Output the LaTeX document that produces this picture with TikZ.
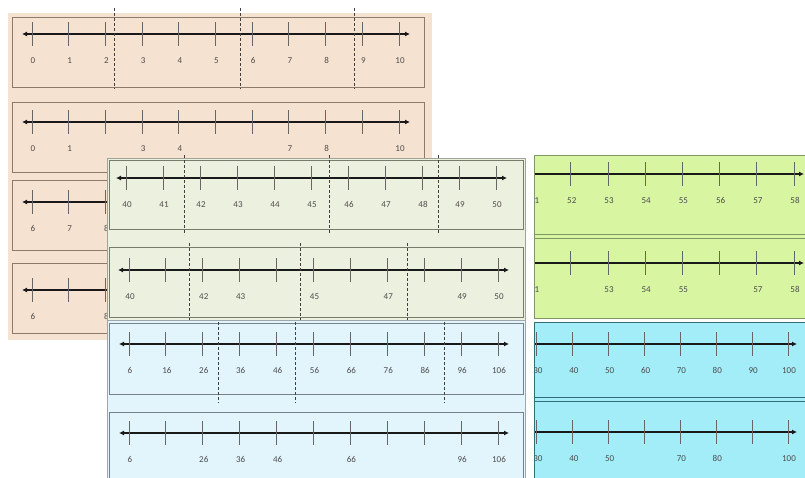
\documentclass[tikz,border=0pt]{standalone}
\usepackage{fontspec}
\setmainfont{Carlito}[Numbers=Lining]
\usetikzlibrary{arrows.meta}
\definecolor{durazno}{RGB}{246,226,208}
\definecolor{bordedur}{RGB}{140,122,106}
\definecolor{verdeclaro}{RGB}{236,240,222}
\definecolor{bordeverde}{RGB}{118,124,108}
\definecolor{azulclaro}{RGB}{226,244,252}
\definecolor{bordeazul}{RGB}{118,130,138}
\definecolor{lima}{RGB}{216,245,162}
\definecolor{bordelima}{RGB}{128,150,100}
\definecolor{cian}{RGB}{162,237,248}
\definecolor{bordecian}{RGB}{50,110,122}

\begin{document}
\begin{tikzpicture}[x=1pt, y=-1pt, font=\fontsize{9}{11}\selectfont,
    linea/.style={line width=1.7pt, draw=black!90,
        {Latex[length=5pt,width=5pt]}-{Latex[length=5pt,width=5pt]}},
    marca/.style={line width=1pt, draw=black!60},
    etiqueta/.style={text=black!70, inner sep=0pt, text height=6pt, text depth=0pt},
    corte/.style={densely dashed, line width=0.6pt, draw=black!75},
    panel/.style={line width=0.8pt}]

    \useasboundingbox (0,0) rectangle (805,477);

    % #1 = marca 0, #2 = paso, #3/#4 = puntas, #5 = etiquetas
    \newcommand{\recta}[5]{%
        \begin{scope}[shift={#1}]
            \draw[linea] (#3,0) -- (#4,0);
            \foreach \i in {0,...,10} \draw[marca] (\i*#2,-12) -- (\i*#2,12);
            \foreach \i/\v in {#5} \node[etiqueta] at (\i*#2+1,26) {\v};
        \end{scope}}

    % tarjeta de 0 a 10
    \fill[durazno] (8,13) rectangle (432,340);
    \foreach \y in {17,102,180,263}
        \draw[panel, bordedur] (12,\y) rectangle (424,\y+70);
    \recta{(32,34)}{36.7}{-10}{378}{0/0,1/1,2/2,3/3,4/4,5/5,6/6,7/7,8/8,9/9,10/10}
    \recta{(32,122)}{36.7}{-10}{378}{0/0,1/1,3/3,4/4,7/7,8/8,10/10}
    \recta{(32,202)}{36.7}{-10}{378}{0/6,1/7,2/8,3/9,4/10,5/11,6/12,7/13,8/14,9/15,10/16}
    \recta{(32,290)}{36.7}{-10}{378}{0/6,2/8,3/9,6/12,7/13,10/16}
    \foreach \x in {114,240,354} \draw[corte] (\x,8) -- (\x,89);

    % tarjetas de la derecha
    \begin{scope}
        \clip (534,155) rectangle (806,318);
        \fill[lima] (534,155) rectangle (806,318);
        \recta{(422,174)}{37.2}{-10}{382}{3/51,4/52,5/53,6/54,7/55,8/56,9/57,10/58}
        \recta{(422,263)}{37.2}{-10}{382}{3/51,5/53,6/54,7/55,9/57,10/58}
        \draw[panel, bordelima] (534,234) -- (806,234) (534,238) -- (806,238);
    \end{scope}
    \draw[panel, bordelima] (534,155) rectangle (806,318);
    \begin{scope}
        \clip (534,322) rectangle (806,478);
        \fill[cian] (534,322) rectangle (806,478);
        \recta{(429.4,344)}{35.86}{-10}{367.6}{3/30,4/40,5/50,6/60,7/70,8/80,9/90,10/100}
        \recta{(429.4,432)}{35.86}{-10}{367.6}{3/30,4/40,5/50,7/70,8/80,10/100}
        \draw[panel, bordecian] (534,397) -- (806,397) (534,401) -- (806,401);
    \end{scope}
    \draw[panel, bordecian] (534,322) rectangle (806,478);

    % tarjeta de 40 a 50
    \fill[verdeclaro, draw=bordeverde!70, line width=0.8pt] (107,158) rectangle (525,320);
    \draw[panel, bordeverde] (109,160) rectangle (523,229);
    \draw[panel, bordeverde] (109,247) rectangle (523,317);
    \recta{(126,178)}{37}{-10}{381}{0/40,1/41,2/42,3/43,4/44,5/45,6/46,7/47,8/48,9/49,10/50}
    \recta{(129,270)}{36.9}{-11}{380}{0/40,2/42,3/43,5/45,7/47,9/49,10/50}
    \foreach \x in {184,329,438} \draw[corte] (\x,155) -- (\x,235);
    \foreach \x in {189,300,407} \draw[corte] (\x,243) -- (\x,322);

    % tarjeta de 6 a 106
    \fill[azulclaro, draw=bordeazul!70, line width=0.8pt] (107,320) rectangle (525,480);
    \draw[panel, bordeazul] (109,323) rectangle (523,394);
    \draw[panel, bordeazul] (109,412) rectangle (523,480);
    \recta{(129,344)}{36.9}{-10}{380}{0/6,1/16,2/26,3/36,4/46,5/56,6/66,7/76,8/86,9/96,10/106}
    \recta{(129,433)}{36.9}{-10}{380}{0/6,2/26,3/36,4/46,6/66,9/96,10/106}
    \foreach \x in {218,295,444} \draw[corte] (\x,322) -- (\x,403);

\end{tikzpicture}
\end{document}
